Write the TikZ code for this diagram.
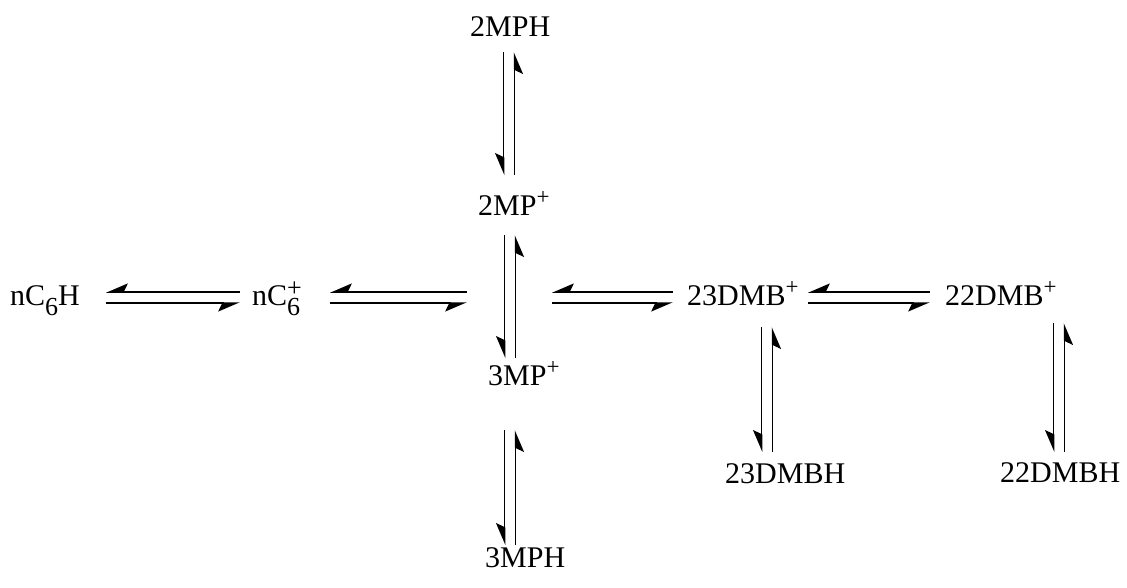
\documentclass[tikz,border=0pt]{standalone}
\usepackage{fontspec}
\setmainfont{Liberation Serif}
\usetikzlibrary{arrows.meta,calc}

% lowered subscript and raised superscript for the species labels
\newcommand\sbs[1]{\raisebox{-10pt}{\fontsize{26}{26}\selectfont #1}}
\newcommand\sps[1]{\raisebox{11pt}{\fontsize{23}{23}\selectfont #1}}
\newcommand\gap{5.5pt}

% pair of equilibrium harpoons between two points on a common axis
\newcommand\equil[2]{%
  \draw[harp] ($#1!\gap!-90:#2$) -- ($#2!\gap!90:#1$);
  \draw[harp] ($#2!\gap!-90:#1$) -- ($#1!\gap!90:#2$);}

\begin{document}
\begin{tikzpicture}[x=1pt,y=-1pt,
  species/.style={inner sep=0pt,anchor=base west,text height=22pt,text depth=7pt,
    font=\fontsize{30}{34}\selectfont},
  harp/.style={line width=1.5pt,-{Stealth[harpoon,swap,length=20pt,width=17pt,inset=4pt]}}]
\useasboundingbox (0,0) rectangle (1127,588);

% species
\node[species] (nh)   at (10,305)  {nC\sbs{6}H};
\node[species] (np)   at (252,305) {nC\rlap{\raisebox{9pt}{\fontsize{26}{26}\selectfont +}}\sbs{6}};
\node[species] (m2h)  at (470,37)  {2MPH};
\node[species] (m2p)  at (478,216) {2MP\sps{+}};
\node[species] (m3p)  at (488,385) {3MP\sps{+}};
\node[species] (m3h)  at (485,567) {3MPH};
\node[species] (d23p) at (687,305) {23DMB\sps{+}};
\node[species] (d22p) at (945,305) {22DMB\sps{+}};
\node[species] (d23h) at (725,483) {23DMBH};
\node[species] (d22h) at (1000,482) {22DMBH};
\coordinate (hub) at (509,297.5);

% horizontal equilibria
\equil{($(nh.west)+(96,0)$)}{($(np.west)+(-12,0)$)}
\equil{($(np.west)+(78,0)$)}{($(hub)+(-42,0)$)}
\equil{($(hub)+(43,0)$)}{($(d23p.west)+(-14,0)$)}
\equil{($(d23p.west)+(121,0)$)}{($(d22p.west)+(-15,0)$)}

% vertical equilibria
\equil{($(m2h.south west)+(39,8)$)}{($(m2p.north west)+(31,-19)$)}
\equil{($(m2p.south west)+(32,12)$)}{($(m3p.north west)+(22,-5)$)}
\equil{($(m3p.south west)+(22,38)$)}{($(m3h.north west)+(25,0)$)}
\equil{($(d23p.south west)+(80,15)$)}{($(d23h.north west)+(42,-9)$)}
\equil{($(d22p.south west)+(114,11)$)}{($(d22h.north west)+(59,-8)$)}
\end{tikzpicture}
\end{document}
